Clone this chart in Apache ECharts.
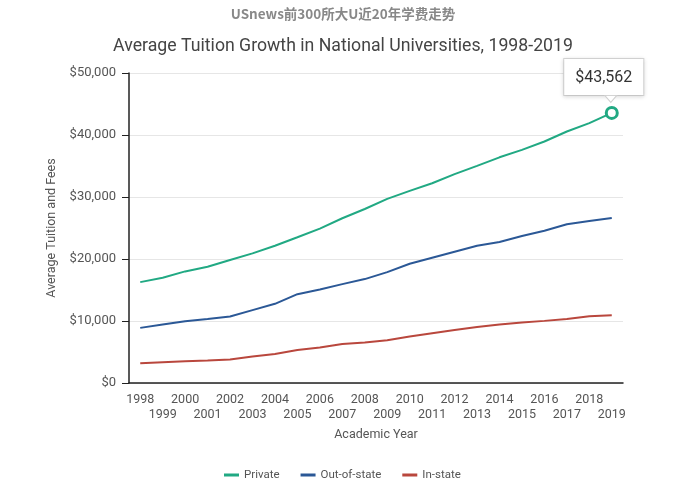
<!DOCTYPE html>
<html>
<head>
<meta charset="utf-8">
<script src="https://cdn.jsdelivr.net/npm/echarts@6/dist/echarts.min.js"></script>
<style>
html,body{margin:0;padding:0;background:#fff;}
#chart{width:686px;height:491px;}
</style>
</head>
<body>
<div id="chart"></div>
<script>
const years = ['1998','1999','2000','2001','2002','2003','2004','2005','2006','2007','2008','2009','2010','2011','2012','2013','2014','2015','2016','2017','2018','2019'];
const privateVals = [16270,16970,18000,18750,19830,20910,22140,23500,24890,26570,28070,29690,30980,32220,33680,35020,36400,37600,38950,40560,41920,43562];
const outOfStateVals = [8890,9440,9970,10340,10730,11750,12770,14330,15090,15950,16760,17890,19230,20200,21170,22140,22740,23710,24560,25600,26130,26620];
const inStateVals = [3180,3350,3510,3620,3780,4270,4690,5330,5720,6300,6530,6900,7500,8030,8560,9050,9440,9760,10020,10340,10780,10940];
const yTicks = [0,10000,20000,30000,40000,50000];

const C_PRIV = '#21a983', C_OUT = '#2b5896', C_IN = '#b9473d';
const chart = echarts.init(document.getElementById('chart'));
const fmt = v => '$' + v.toLocaleString('en-US');
const last = privateVals.length - 1;

const privData = privateVals.map((v, i) => {
  if (i !== last) return v;
  return {
    value: v,
    symbol: 'circle',
    symbolSize: 11,
    itemStyle: {color: '#fff', borderColor: C_PRIV, borderWidth: 3},
    label: {
      show: true, position: 'top', distance: 11, offset: [-8, 0],
      formatter: p => fmt(p.value),
      fontFamily: 'Roboto', fontSize: 16, color: '#333',
      backgroundColor: '#fff', borderColor: '#d6d6d6', borderWidth: 1,
      padding: [11, 11, 9, 11],
      shadowColor: 'rgba(0,0,0,0.12)', shadowBlur: 4, shadowOffsetY: 1
    }
  };
});

chart.setOption({
  animation: false,
  backgroundColor: '#fff',
  title: [
    {text: 'USnews前300所大U近20年学费走势', left: 'center', top: 2,
     textStyle: {fontSize: 13.5, fontWeight: 'bold', color: '#888', fontFamily: 'Noto Sans CJK SC'}},
    {text: 'Average Tuition Growth in National Universities, 1998-2019', left: 'center', top: 33,
     textStyle: {fontSize: 17.7, fontWeight: 'normal', color: '#444', fontFamily: 'Roboto'}}
  ],
  legend: {
    bottom: 5, left: 219, itemWidth: 15, itemHeight: 3, itemGap: 21, icon: 'rect',
    textStyle: {fontFamily: 'Roboto', fontSize: 11.5, color: '#555'},
    data: ['Private', 'Out-of-state', 'In-state']
  },
  grid: {left: 129, right: 63, top: 73, bottom: 108, containLabel: false},
  xAxis: {
    type: 'category', data: years, boundaryGap: true,
    name: 'Academic Year', nameLocation: 'middle', nameGap: 45,
    nameTextStyle: {fontFamily: 'Roboto', fontSize: 12.5, color: '#555'},
    axisLine: {lineStyle: {color: '#222', width: 1.5}},
    axisTick: {alignWithLabel: true, length: 8, lineStyle: {color: '#222'}},
    axisLabel: {interval: 0, margin: 9, lineHeight: 15, fontFamily: 'Roboto', fontSize: 12.5, color: '#555',
      formatter: (v, i) => (i % 2 ? '\n' + v : v)}
  },
  yAxis: {
    type: 'value', min: 0, max: 50000, interval: 10000,
    name: 'Average Tuition and Fees', nameLocation: 'middle', nameGap: 57,
    nameTextStyle: {fontFamily: 'Roboto', fontSize: 12.5, color: '#555'},
    axisLine: {show: true, lineStyle: {color: '#222', width: 1.5}},
    axisTick: {show: true, length: 7, lineStyle: {color: '#222'}},
    axisLabel: {margin: 13, fontFamily: 'Roboto', fontSize: 13, color: '#555',
      formatter: v => yTicks.includes(v) ? fmt(v) : ''},
    splitLine: {lineStyle: {color: '#e6e6e6'}}
  },
  series: [
    {name: 'Private', type: 'line', data: privData, symbol: 'none',
     itemStyle: {color: C_PRIV}, lineStyle: {color: C_PRIV, width: 2}, z: 3,
     markPoint: {
       z: 10,
       symbol: 'triangle', symbolRotate: 180, symbolSize: [12, 7], symbolOffset: [-1, -14],
       silent: true, label: {show: false},
       itemStyle: {color: '#fff', borderColor: '#d0d0d0', borderWidth: 1},
       data: [{coord: [years[last], privateVals[last]]}]
     }},
    {name: 'Out-of-state', type: 'line', data: outOfStateVals, symbol: 'none',
     itemStyle: {color: C_OUT}, lineStyle: {color: C_OUT, width: 2}},
    {name: 'In-state', type: 'line', data: inStateVals, symbol: 'none',
     itemStyle: {color: C_IN}, lineStyle: {color: C_IN, width: 2}}
  ]
});
</script>
</body>
</html>
